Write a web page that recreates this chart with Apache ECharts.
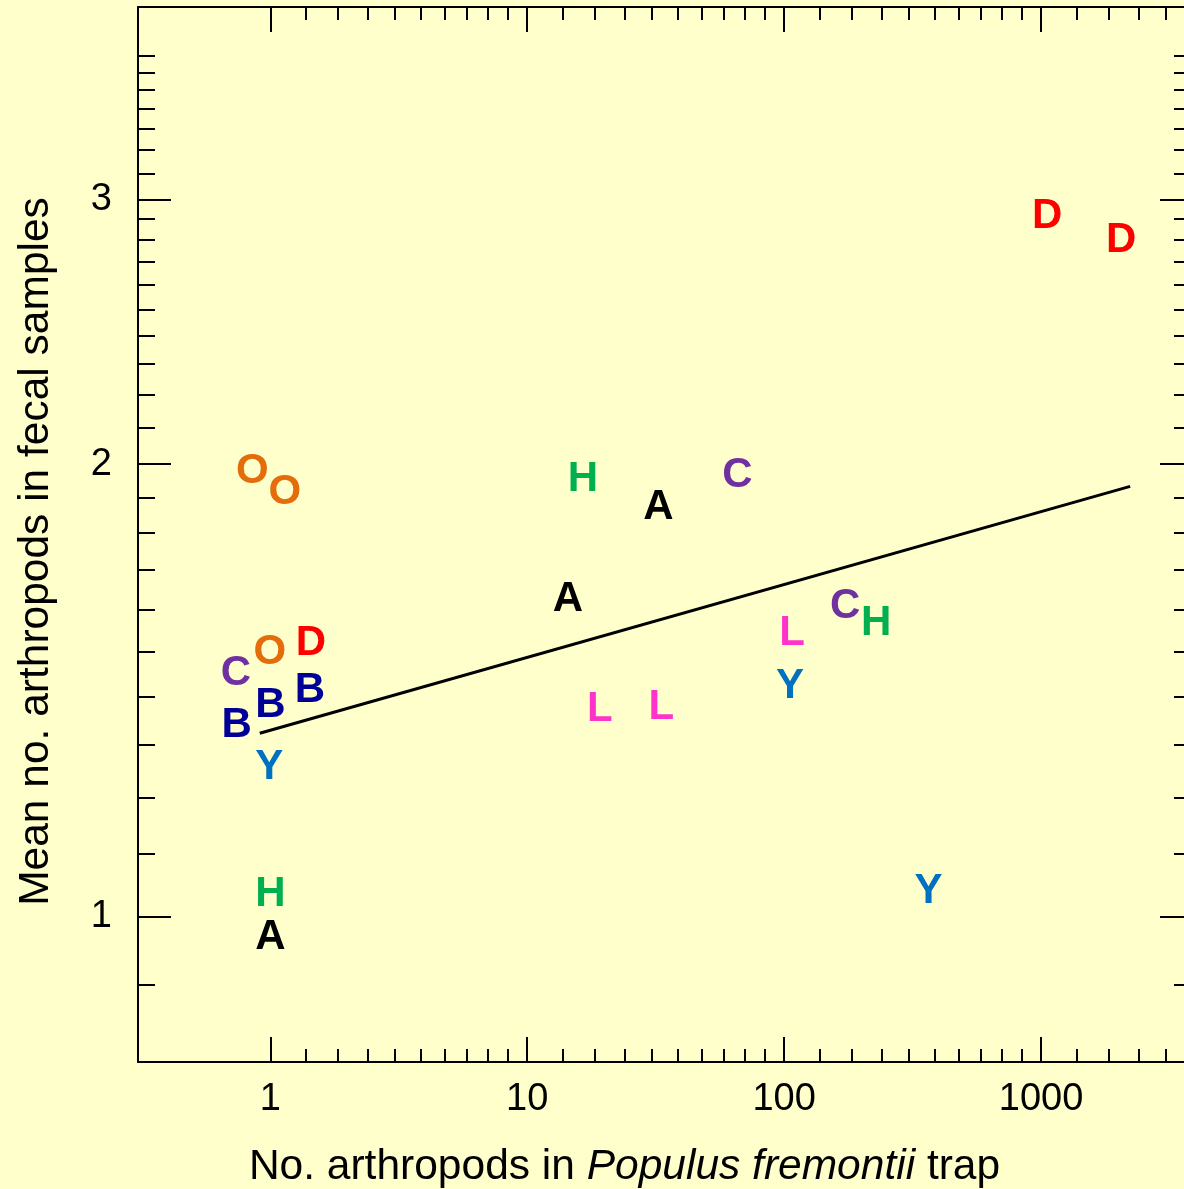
<!DOCTYPE html>
<html>
<head>
<meta charset="utf-8">
<script src="https://cdn.jsdelivr.net/npm/echarts@6/dist/echarts.min.js"></script>
<style>
  html, body { margin: 0; padding: 0; background: #ffffcc; }
  #chart { width: 1184px; height: 1189px; }
</style>
</head>
<body>
<div id="chart"></div>
<script>
// axis ranges and labelled ticks
const X_MIN = 0.3055, X_MAX = 3700;
const Y_MIN = 0.8, Y_MAX = 4.03;
const xTickLabels = [1, 10, 100, 1000];
const yTickLabels = [1, 2, 3];

// one letter per site, [trap count, mean in fecal samples]
const pointsA = [[32.4, 1.877], [14.41, 1.630], [1.0, 0.971]];
const pointsB = [[1.0, 1.386], [1.425, 1.419], [0.740, 1.344]];
const pointsC = [[65.8, 1.971], [172.7, 1.612], [0.734, 1.456]];
const pointsD = [[1056, 2.931], [2051, 2.825], [1.438, 1.525]];
const pointsH = [[16.48, 1.960], [228, 1.572], [1.0, 1.038]];
const pointsL = [[107.3, 1.548], [19.19, 1.378], [33.3, 1.381]];
const pointsO = [[0.851, 1.984], [1.139, 1.921], [0.996, 1.503]];
const pointsY = [[105.4, 1.426], [0.99, 1.261], [365, 1.042]];

// regression line end points
const fitLine = [[0.91, 1.324], [2223, 1.933]];

const FONT = '"Liberation Sans", Arial, Helvetica, sans-serif';

// the source plot spaces minor ticks inside each major interval
// like the 1..2 log interval, stretched over that interval
function subTicks(a, b, n) {
  const out = [];
  const la = Math.log10(a), lb = Math.log10(b);
  for (let i = 1; i <= n; i++) {
    out.push(Math.pow(10, la + (lb - la) * Math.log2(1 + 0.1 * i)));
  }
  return out;
}
const xMinorTicks = [].concat(subTicks(1, 10, 9), subTicks(10, 100, 9), subTicks(100, 1000, 9), subTicks(1000, 10000, 9))
  .filter(v => v < X_MAX);
const yMinorTicks = [0.9].concat(subTicks(1, 2, 9), subTicks(2, 3, 9), subTicks(3, 4, 7));

function logAxis(position, min, max, ticks, len, extra) {
  return Object.assign({
    type: 'log',
    logBase: 10,
    position: position,
    min: min,
    max: max,
    axisLine: { show: false, onZero: false },
    splitLine: { show: false },
    axisTick: { show: true, inside: true, length: len, customValues: ticks, lineStyle: { color: '#000', width: 2 } },
    axisLabel: { show: false }
  }, extra || {});
}

const lineOn = { show: true, onZero: false, lineStyle: { color: '#000', width: 2 } };

function letterSeries(letter, data, color) {
  return {
    type: 'scatter',
    name: letter,
    data: data,
    symbolSize: 1,
    itemStyle: { color: 'rgba(0,0,0,0)', opacity: 1 },
    label: {
      show: true,
      position: 'inside',
      offset: [0, 2],
      formatter: letter,
      color: color,
      opacity: 1,
      fontSize: 42,
      fontWeight: 'bold',
      fontFamily: FONT
    },
    silent: true,
    z: 3
  };
}

const chart = echarts.init(document.getElementById('chart'), null, { renderer: 'canvas' });

const option = {
  backgroundColor: '#ffffcc',
  animation: false,
  grid: { left: 138, top: 7, right: -3, bottom: 127, outerBoundsMode: 'none' },
  xAxis: [
    logAxis('bottom', X_MIN, X_MAX, xTickLabels, 25, {
      axisLine: lineOn,
      axisLabel: {
        show: true,
        customValues: xTickLabels,
        formatter: v => String(Math.round(v)),
        color: '#000',
        fontSize: 38,
        fontFamily: FONT,
        margin: 19
      },
      name: '{n|No. arthropods in }{i|Populus fremontii}{n| trap}',
      nameLocation: 'middle',
      nameGap: 84,
      nameTextStyle: {
        padding: [0, 76, 0, 0],
        rich: {
          n: { fontSize: 42.5, fontFamily: FONT, color: '#000' },
          i: { fontSize: 42.5, fontFamily: FONT, fontStyle: 'italic', color: '#000' }
        }
      }
    }),
    logAxis('bottom', X_MIN, X_MAX, xMinorTicks, 13),
    logAxis('top', X_MIN, X_MAX, xTickLabels, 25, { axisLine: lineOn }),
    logAxis('top', X_MIN, X_MAX, xMinorTicks, 13)
  ],
  yAxis: [
    logAxis('left', Y_MIN, Y_MAX, yTickLabels, 33, {
      axisLine: lineOn,
      axisLabel: {
        show: true,
        customValues: yTickLabels,
        formatter: v => String(Math.round(v)),
        color: '#000',
        fontSize: 38,
        fontFamily: FONT,
        margin: 26
      },
      name: 'Mean no. arthropods in fecal samples',
      nameLocation: 'middle',
      nameGap: 80,
      nameTextStyle: { fontSize: 42.5, fontFamily: FONT, color: '#000', padding: [0, 34, 0, 0] }
    }),
    logAxis('left', Y_MIN, Y_MAX, yMinorTicks, 17),
    logAxis('right', Y_MIN, Y_MAX, yTickLabels, 27, { axisLine: lineOn }),
    logAxis('right', Y_MIN, Y_MAX, yMinorTicks, 13)
  ],
  series: [
    {
      type: 'line',
      data: fitLine,
      symbol: 'none',
      lineStyle: { color: '#000', width: 3 },
      silent: true,
      z: 2
    },
    letterSeries('A', pointsA, '#000000'),
    letterSeries('B', pointsB, '#000099'),
    letterSeries('C', pointsC, '#7030a0'),
    letterSeries('D', pointsD, '#ff0000'),
    letterSeries('H', pointsH, '#00b050'),
    letterSeries('L', pointsL, '#ff33cc'),
    letterSeries('O', pointsO, '#e46c0a'),
    letterSeries('Y', pointsY, '#0070c0')
  ]
};

chart.setOption(option);
window.addEventListener('resize', chart.resize);
</script>
</body>
</html>
